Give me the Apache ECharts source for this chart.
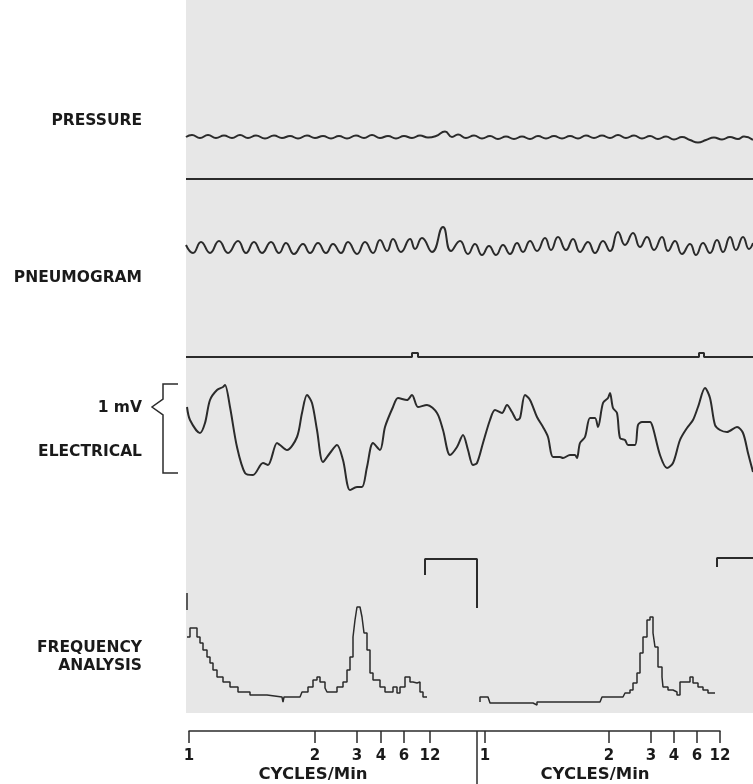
<!DOCTYPE html>
<html>
<head>
<meta charset="utf-8">
<script src="https://cdn.jsdelivr.net/npm/echarts@6/dist/echarts.min.js"></script>
<style>
  html, body { margin: 0; padding: 0; background: #fff; }
  #chart { width: 753px; height: 784px; }
</style>
</head>
<body>
<div id="chart"></div>
<script>
// x = position along the record (chart units from the left edge of the paper)
// y = pen deflection above the bottom of each channel (chart units)
const pressure = [[0,53],[6,55],[14,52],[22,55],[30,52],[38,54.5],[46,52],[54,55],[62,52],[70,54.5],[79,51.5],[88,54.5],[96,52],[104,54],[112,51.5],[121,54.5],[129,52],[137,54],[145,51.5],[153,54],[161,51.5],[170,54.5],[178,52],[186,55],[194,52],[202,54],[210,51.5],[218,54],[226,52],[234,54.5],[242,52.5],[250,54],[259,58.5],[266,53],[272,55.5],[280,52],[288,54.5],[296,51.5],[304,54],[312,51],[320,53.5],[328,51],[336,53.5],[344,51],[352,54],[360,51.5],[368,54],[376,51.5],[384,54],[392,51.5],[400,54.5],[408,52],[416,54.5],[424,52],[432,55],[440,52],[448,54.5],[456,51.5],[464,54],[472,51],[480,53.5],[488,50.5],[496,53],[504,50],[512,47.5],[520,50],[528,52.5],[536,50.5],[544,53],[552,51],[558,53.5],[567,50]];
const pressureBase = [[0,11],[567,11]];

const pneumogram = [[0,20],[7,12],[15,23],[24,12],[33,24],[42,12],[52,24],[60,12],[68,23],[76,12],[85,23],[93,12],[100,22],[108,11],[117,21],[124,12],[132,22],[140,12],[147,21],[155,12],[162,23],[171,11],[179,23],[187,12],[194,25],[201,14],[207,26],[215,13],[224,26],[229,16],[236,27],[246,13],[257,38],[265,14],[274,24],[282,11],[289,21],[296,10],[303,19],[310,10],[317,20],[324,11],[331,22],[337,13],[344,24],[351,14],[359,27],[365,15],[372,28],[380,15],[387,26],[394,13],[402,23],[409,12],[417,24],[424,14],[432,33],[439,20],[447,32],[454,18],[461,28],[468,15],[476,28],[482,14],[489,24],[496,11],[504,21],[510,10],[517,22],[524,12],[531,25],[537,13],[544,28],[550,15],[557,28],[563,16],[567,22]];

const marker = [[0,143],[226,143],[226,147],[232,147],[232,143],[513,143],[513,147],[518,147],[518,143],[567,143]];

const electrical = [[1,93],[4,80],[14,67],[19,77],[24,100],[31,110],[37,113],[39,115],[44,93],[51,53],[59,27],[67,25],[77,37],[82,35],[91,57],[94,55],[101,50],[111,63],[116,87],[121,105],[126,97],[131,70],[137,38],[144,47],[151,55],[157,40],[164,10],[171,13],[176,13],[181,33],[187,57],[194,50],[199,73],[207,93],[212,102],[221,100],[226,105],[232,93],[241,95],[251,87],[257,70],[264,45],[271,53],[277,65],[282,50],[287,35],[291,37],[297,57],[304,80],[309,90],[316,87],[321,95],[326,88],[331,80],[334,82],[339,105],[344,100],[351,83],[357,73],[362,63],[367,43],[374,43],[377,42],[384,45],[389,45],[391,42],[394,57],[399,63],[404,82],[409,82],[412,73],[417,97],[422,102],[424,107],[427,92],[431,87],[434,62],[439,60],[442,55],[449,55],[452,75],[456,78],[464,78],[467,72],[474,45],[481,32],[487,37],[494,60],[501,72],[507,80],[512,93],[519,112],[524,102],[529,75],[534,70],[541,68],[551,73],[557,67],[562,47],[567,28]];

const spectrumStart = [[1,117],[1,100]];
const spectrumLeft = [[1,73],[4,82],[8,82],[11,73],[14,67],[17,60],[21,53],[24,47],[27,40],[31,33],[37,28],[44,23],[52,18],[64,15],[81,13],[96,13],[97,8],[98,13],[114,13],[116,18],[122,23],[127,30],[131,33],[134,28],[139,22],[141,18],[147,18],[151,23],[157,28],[161,40],[164,53],[167,73],[169,90],[171,103],[174,105],[176,93],[178,77],[181,60],[184,37],[187,30],[194,23],[199,18],[204,18],[207,23],[211,17],[214,23],[219,33],[224,28],[227,27],[231,28],[234,18],[237,13],[241,13]];
const gateLeft = [[239,135],[239,151],[291,151],[291,102]];
const spectrumRight = [[294,8],[294,13],[302,13],[304,7],[347,7],[349,5],[351,8],[414,8],[416,13],[437,13],[439,17],[444,20],[447,27],[451,37],[454,57],[457,73],[461,90],[464,93],[467,77],[469,63],[472,43],[476,33],[477,23],[482,20],[487,18],[491,15],[494,28],[499,28],[504,33],[507,27],[512,23],[517,20],[522,17],[529,17]];
const gateRight = [[531,143],[531,152],[567,152]];

// frequency scale under the analysis (two sweeps)
const tickLabels = ['1','2','3','4','6','12','1','2','3','4','6','12'];
const tickPos = [0,126,168,192,215,241,296,420,462,485,508,531];

const channelNames = ['PRESSURE','PNEUMOGRAM','ELECTRICAL'];

const ink = '#2b2b2b';
const chart = echarts.init(document.getElementById('chart'), null, {renderer: 'canvas'});

function hiddenX(i) {
    return {type: 'value', gridIndex: i, min: 0, max: 567, show: false};
}
function hiddenY(i, h) {
    return {type: 'value', gridIndex: i, min: 0, max: h, show: false};
}
function trace(name, data, g, width, extra) {
    return Object.assign({
        name: name, type: 'line', data: data, xAxisIndex: g, yAxisIndex: g,
        showSymbol: false, symbol: 'none', silent: true, animation: false,
        lineStyle: {color: ink, width: width}
    }, extra || {});
}

const labelFont = {fontFamily: 'DejaVu Sans', fontWeight: 'bold', fontSize: 15.5, fill: '#1a1a1a'};
function sideLabel(text, y) {
    return {type: 'text', x: 142, y: y, style: Object.assign({text: text, align: 'right', verticalAlign: 'middle'}, labelFont)};
}
function unitLabel(x) {
    return {type: 'text', x: x, y: 775, style: Object.assign({text: 'CYCLES/Min', align: 'center', verticalAlign: 'middle'}, labelFont, {fontSize: 16.5})};
}

let option = {
    backgroundColor: '#ffffff',
    animation: false,
    grid: [
        {left: 186, width: 567, top: 110, height: 80},
        {left: 186, width: 567, top: 215, height: 50},
        {left: 186, width: 567, top: 340, height: 160},
        {left: 186, width: 567, top: 550, height: 160},
        {left: 189, width: 531, top: 700, height: 31}
    ],
    xAxis: [hiddenX(0), hiddenX(1), hiddenX(2), hiddenX(3), {
        type: 'value', gridIndex: 4, min: 0, max: 531,
        axisLine: {show: true, lineStyle: {color: ink, width: 1.5}},
        splitLine: {show: false},
        axisTick: {show: true, customValues: tickPos, length: 12, lineStyle: {color: ink, width: 1.5}},
        axisLabel: {
            show: true, customValues: tickPos, margin: 18,
            color: '#1a1a1a', fontFamily: 'DejaVu Sans', fontWeight: 'bold', fontSize: 15,
            formatter: function (v) {
                let i = tickPos.indexOf(v);
                return i >= 0 ? tickLabels[i] : '';
            }
        }
    }],
    yAxis: [hiddenY(0, 80), hiddenY(1, 50), hiddenY(2, 160), hiddenY(3, 160), hiddenY(4, 31)],
    series: [
        trace('pressure', pressure, 0, 2, {smooth: 0.5}),
        trace('pressure base', pressureBase, 0, 2),
        trace('pneumogram', pneumogram, 1, 2, {smooth: 0.5}),
        trace('marker', marker, 2, 2),
        trace('electrical', electrical, 2, 2, {smooth: 0.3}),
        trace('sweep start', spectrumStart, 3, 1.5),
        trace('analysis 1', spectrumLeft, 3, 1.5, {step: 'end'}),
        trace('gate 1', gateLeft, 3, 2),
        trace('analysis 2', spectrumRight, 3, 1.5, {step: 'end'}),
        trace('gate 2', gateRight, 3, 2)
    ],
    graphic: [
        // recording paper
        {type: 'rect', z: -10, shape: {x: 186, y: 0, width: 567, height: 713}, style: {fill: '#e7e7e7'}},
        sideLabel(channelNames[0], 121),
        sideLabel(channelNames[1], 278),
        sideLabel('1 mV', 408),
        sideLabel(channelNames[2], 452),
        sideLabel('FREQUENCY', 648),
        sideLabel('ANALYSIS', 666),
        // 1 mV calibration brace
        {type: 'polyline', shape: {points: [[178,384],[163,384],[163,399],[152,407],[163,415],[163,473],[178,473]]},
         style: {stroke: ink, lineWidth: 1.5, fill: null}},
        // divider between the two sweeps
        {type: 'line', shape: {x1: 477, y1: 731, x2: 477, y2: 784}, style: {stroke: ink, lineWidth: 1.5}},
        unitLabel(313),
        unitLabel(595)
    ]
};
chart.setOption(option);
</script>
</body>
</html>
